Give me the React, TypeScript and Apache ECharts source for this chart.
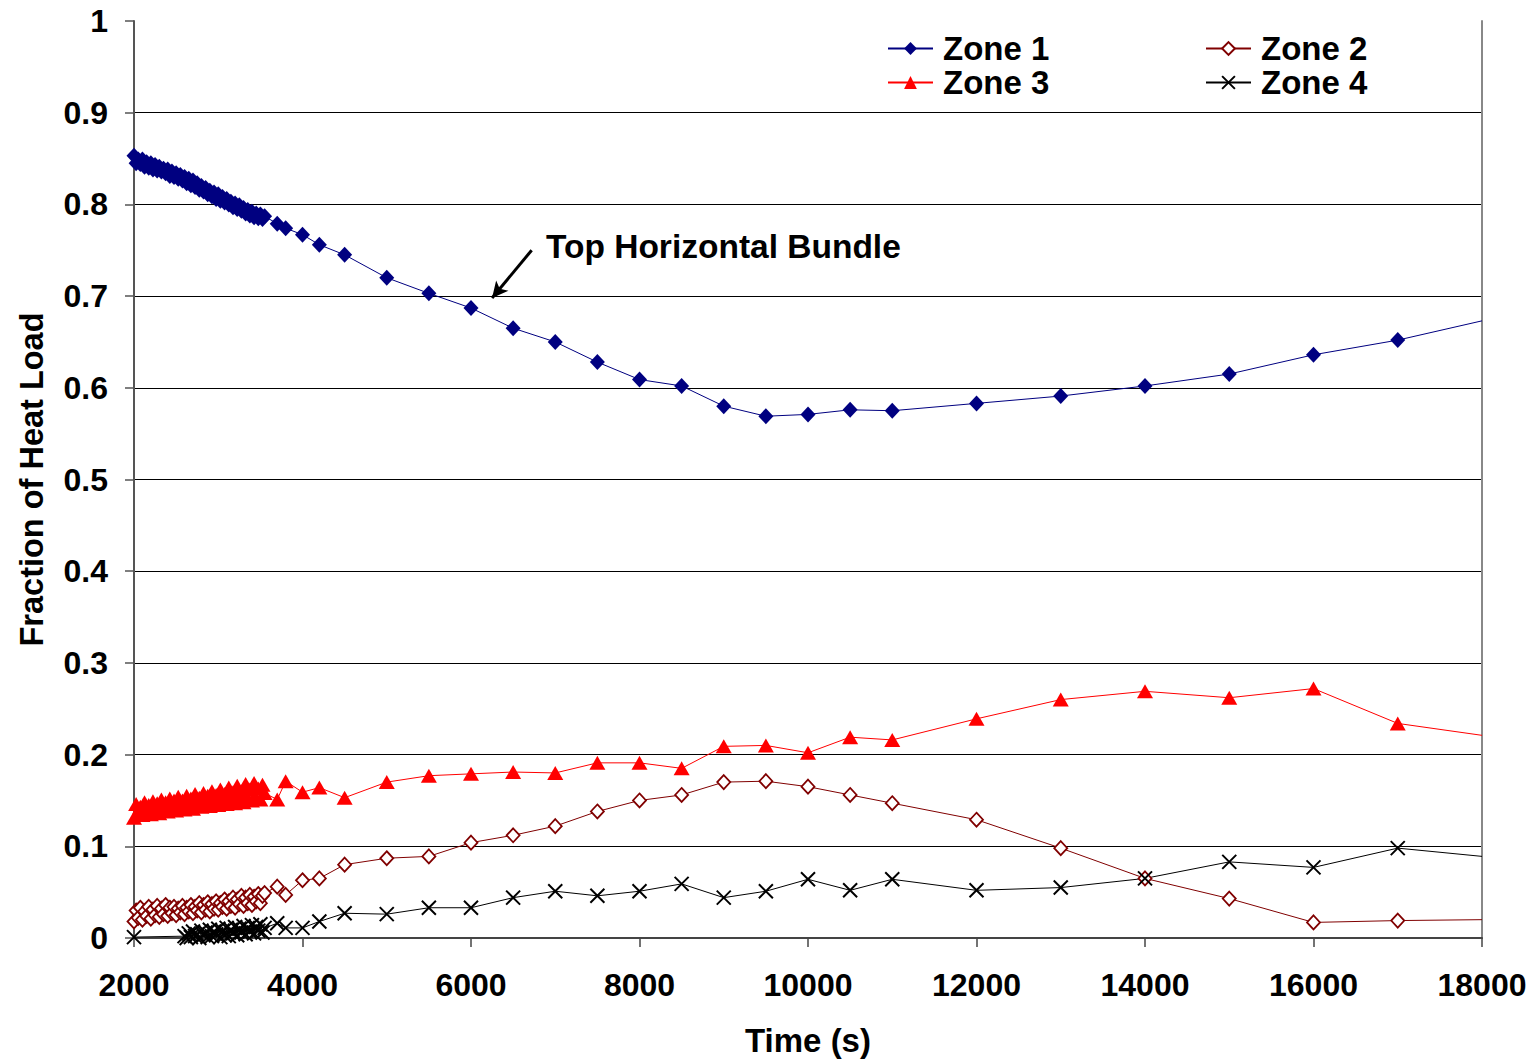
import React, { useEffect, useRef } from "react";
import * as echarts from "echarts";

// Dense early samples (s)
const denseTime = [2000, 2025, 2050, 2075, 2100, 2125, 2150, 2175, 2200, 2225, 2250, 2275, 2300, 2325, 2350, 2375, 2400, 2425, 2450, 2475, 2500, 2525, 2550, 2575, 2600, 2625, 2650, 2675, 2700, 2725, 2750, 2775, 2800, 2825, 2850, 2875, 2900, 2925, 2950, 2975, 3000, 3025, 3050, 3075, 3100, 3125, 3150, 3175, 3200, 3225, 3250, 3275, 3300, 3325, 3350, 3375, 3400, 3425, 3450, 3475, 3500, 3525, 3550];
const zone4DenseTime = [2000, 2600, 2625, 2650, 2675, 2700, 2725, 2750, 2775, 2800, 2825, 2850, 2875, 2900, 2925, 2950, 2975, 3000, 3025, 3050, 3075, 3100, 3125, 3150, 3175, 3200, 3225, 3250, 3275, 3300, 3325, 3350, 3375, 3400, 3425, 3450, 3475, 3500, 3525, 3550];
// Sparse later samples (s)
const sparseTime = [3700, 3800, 4000, 4200, 4500, 5000, 5500, 6000, 6500, 7000, 7500, 8000, 8500, 9000, 9500, 10000, 10500, 11000, 12000, 13000, 14000, 15000, 16000, 17000, 18000];

const zone1Dense = [
  0.853, 0.845, 0.849, 0.844, 0.849, 0.841, 0.846, 0.840, 0.845, 0.838,
  0.843, 0.837, 0.841, 0.836, 0.839, 0.834, 0.838, 0.831, 0.836, 0.830,
  0.834, 0.828, 0.832, 0.826, 0.830, 0.823, 0.828, 0.821, 0.826, 0.819,
  0.823, 0.816, 0.820, 0.814, 0.818, 0.811, 0.815, 0.809, 0.813, 0.806,
  0.811, 0.804, 0.808, 0.802, 0.806, 0.800, 0.803, 0.797, 0.801, 0.795,
  0.799, 0.793, 0.796, 0.790, 0.794, 0.788, 0.792, 0.786, 0.790, 0.785,
  0.789, 0.784, 0.787,
];
const zone2Dense = [
  0.018, 0.030, 0.022, 0.033, 0.020, 0.029, 0.024, 0.034, 0.021, 0.031,
  0.025, 0.035, 0.023, 0.032, 0.026, 0.036, 0.024, 0.033, 0.027, 0.034,
  0.025, 0.032, 0.028, 0.035, 0.026, 0.033, 0.029, 0.036, 0.027, 0.034,
  0.030, 0.038, 0.028, 0.036, 0.031, 0.039, 0.029, 0.037, 0.032, 0.040,
  0.031, 0.038, 0.034, 0.042, 0.032, 0.040, 0.035, 0.044, 0.033, 0.042,
  0.037, 0.046, 0.035, 0.044, 0.038, 0.047, 0.036, 0.045, 0.040, 0.048,
  0.038, 0.046, 0.049,
];
const zone3Dense = [
  0.131, 0.146, 0.137, 0.143, 0.134, 0.148, 0.139, 0.145, 0.135, 0.149,
  0.140, 0.147, 0.136, 0.151, 0.141, 0.148, 0.138, 0.152, 0.142, 0.150,
  0.139, 0.154, 0.143, 0.150, 0.140, 0.155, 0.145, 0.152, 0.141, 0.157,
  0.146, 0.153, 0.143, 0.158, 0.147, 0.155, 0.144, 0.160, 0.148, 0.156,
  0.145, 0.162, 0.149, 0.157, 0.146, 0.164, 0.150, 0.159, 0.147, 0.166,
  0.151, 0.160, 0.148, 0.168, 0.152, 0.162, 0.150, 0.169, 0.153, 0.163,
  0.151, 0.167, 0.158,
];
const zone4Dense = [
  0.001,
  0.002, 0.000, 0.005, 0.001, 0.007, 0.002, 0.004, 0.000, 0.008, 0.003,
  0.006, 0.001, 0.009, 0.002, 0.007, 0.004, 0.010, 0.001, 0.008, 0.003,
  0.011, 0.002, 0.009, 0.005, 0.012, 0.003, 0.010, 0.006, 0.013, 0.004,
  0.011, 0.007, 0.014, 0.005, 0.012, 0.008, 0.015, 0.006, 0.011,
];

const zone1Sparse = [0.779, 0.774, 0.767, 0.756, 0.745, 0.720, 0.703, 0.687, 0.665, 0.650, 0.628, 0.609, 0.602, 0.580, 0.569, 0.571, 0.576, 0.575, 0.583, 0.591, 0.602, 0.615, 0.636, 0.652, 0.673];
const zone2Sparse = [0.056, 0.047, 0.063, 0.065, 0.080, 0.087, 0.089, 0.104, 0.112, 0.122, 0.138, 0.150, 0.156, 0.170, 0.171, 0.165, 0.156, 0.147, 0.129, 0.098, 0.065, 0.043, 0.017, 0.019, 0.020];
const zone3Sparse = [0.151, 0.171, 0.159, 0.164, 0.153, 0.170, 0.177, 0.179, 0.181, 0.180, 0.191, 0.191, 0.185, 0.209, 0.210, 0.202, 0.219, 0.216, 0.239, 0.260, 0.269, 0.262, 0.272, 0.234, 0.221];
const zone4Sparse = [0.016, 0.011, 0.011, 0.018, 0.027, 0.026, 0.033, 0.033, 0.044, 0.051, 0.046, 0.051, 0.059, 0.044, 0.051, 0.064, 0.052, 0.064, 0.052, 0.055, 0.065, 0.083, 0.077, 0.098, 0.089];

const seriesNames = ["Zone 1", "Zone 2", "Zone 3", "Zone 4"];
const annotationText = "Top Horizontal Bundle";
const arrowFrom = [6720, 0.750];
const arrowTo = [6250, 0.698];

const FONT = "'Liberation Sans', Arial, sans-serif";

function build(dt: number[], dv: number[], st: number[], sv: number[]) {
  const out: any[] = [];
  dt.forEach((t, i) => out.push([t, dv[i]]));
  st.forEach((t, i) => {
    if (i === st.length - 1) out.push({ value: [t, sv[i]], symbol: "none" });
    else out.push([t, sv[i]]);
  });
  return out;
}

export default function App() {
  const ref = useRef<HTMLDivElement>(null);
  useEffect(() => {
    if (!ref.current) return;
    const chart = echarts.init(ref.current, null, { renderer: "svg" });
    const xSymbol = "path://M0,0L10,10M10,0L0,10";
    const legendBase = {
      itemWidth: 45,
      itemHeight: 16,
      padding: 0,
      textStyle: { fontFamily: FONT, fontWeight: "bold", fontSize: 33, color: "#000", padding: [0, 0, 0, 5] },
      selectedMode: false,
    };
    chart.setOption({
      animation: false,
      backgroundColor: "#fff",
      grid: { left: 134, right: 57, top: 21, bottom: 124 },
      legend: [
        { ...legendBase, data: [seriesNames[0]], left: 887, top: 32 },
        { ...legendBase, data: [seriesNames[1]], left: 1205, top: 32 },
        { ...legendBase, data: [seriesNames[2]], left: 887, top: 66 },
        { ...legendBase, data: [seriesNames[3]], left: 1205, top: 66 },
      ],
      xAxis: {
        type: "value",
        min: 2000,
        max: 18000,
        interval: 2000,
        name: "Time (s)",
        nameLocation: "middle",
        nameGap: 86,
        nameTextStyle: { fontFamily: FONT, fontWeight: "bold", fontSize: 33, color: "#000" },
        axisLine: { lineStyle: { color: "#444", width: 2 } },
        axisTick: { show: true, length: 9, lineStyle: { color: "#444", width: 1.5 } },
        axisLabel: {
          fontFamily: FONT,
          fontWeight: "bold",
          fontSize: 32,
          color: "#000",
          margin: 31,
          showMinLabel: true,
          showMaxLabel: true,
          formatter: (v: number) => String(v),
        },
        splitLine: { show: false },
      },
      yAxis: [
        {
          type: "value",
          min: 0,
          max: 1,
          interval: 0.1,
          name: "Fraction of Heat Load",
          nameLocation: "middle",
          nameGap: 86,
          nameTextStyle: { fontFamily: FONT, fontWeight: "bold", fontSize: 32.5, color: "#000" },
          axisLine: { show: true, lineStyle: { color: "#555", width: 2 } },
          axisTick: { show: true, length: 9, lineStyle: { color: "#555", width: 1.5 } },
          axisLabel: { fontFamily: FONT, fontWeight: "bold", fontSize: 32, color: "#000", margin: 26 },
          splitLine: {
            show: true,
            lineStyle: {
              width: 1,
              color: ["#000", "#000", "#000", "#000", "#000", "#000", "#000", "#000", "#000", "#000", "transparent"],
            },
          },
        },
        {
          type: "value",
          min: 0,
          max: 1,
          interval: 0.1,
          position: "right",
          axisLine: { show: true, lineStyle: { color: "#888", width: 2 } },
          axisTick: { show: false },
          axisLabel: { show: false },
          splitLine: { show: false },
        },
      ],
      graphic: [
        {
          type: "text",
          left: 546,
          top: 229,
          style: { text: annotationText, fontFamily: FONT, fontWeight: "bold", fontSize: 33.5, fill: "#000" },
        },
      ],
      series: [
        {
          name: seriesNames[1],
          type: "line",
          data: build(denseTime, zone2Dense, sparseTime, zone2Sparse),
          symbol: "diamond",
          symbolSize: [13, 14],
          showAllSymbol: true,
          lineStyle: { color: "#800000", width: 1 },
          itemStyle: { color: "#fff", borderColor: "#800000", borderWidth: 1.8 },
        },
        {
          name: seriesNames[3],
          type: "line",
          data: build(zone4DenseTime, zone4Dense, sparseTime, zone4Sparse),
          symbol: xSymbol,
          symbolSize: 14,
          showAllSymbol: true,
          lineStyle: { color: "#000", width: 1 },
          itemStyle: { color: "#000", borderColor: "#000", borderWidth: 2 },
        },
        {
          name: seriesNames[2],
          type: "line",
          data: build(denseTime, zone3Dense, sparseTime, zone3Sparse),
          symbol: "triangle",
          symbolSize: [16, 14],
          showAllSymbol: true,
          lineStyle: { color: "#ff0000", width: 1 },
          itemStyle: { color: "#ff0000" },
        },
        {
          name: seriesNames[0],
          type: "line",
          data: build(denseTime, zone1Dense, sparseTime, zone1Sparse),
          symbol: "diamond",
          symbolSize: [15, 16],
          showAllSymbol: true,
          lineStyle: { color: "#000080", width: 1 },
          itemStyle: { color: "#000080" },
          markLine: {
            silent: true,
            symbol: ["none", "arrow"],
            symbolSize: [12, 16],
            label: { show: false },
            lineStyle: { color: "#000", width: 3, type: "solid" },
            data: [[{ coord: arrowFrom }, { coord: arrowTo }]],
          },
        },
      ],
    });
    return () => chart.dispose();
  }, []);
  return (
    <div
      ref={ref}
      style={{ position: "fixed", left: 0, top: 0, width: 1539, height: 1062, background: "#fff" }}
    />
  );
}
